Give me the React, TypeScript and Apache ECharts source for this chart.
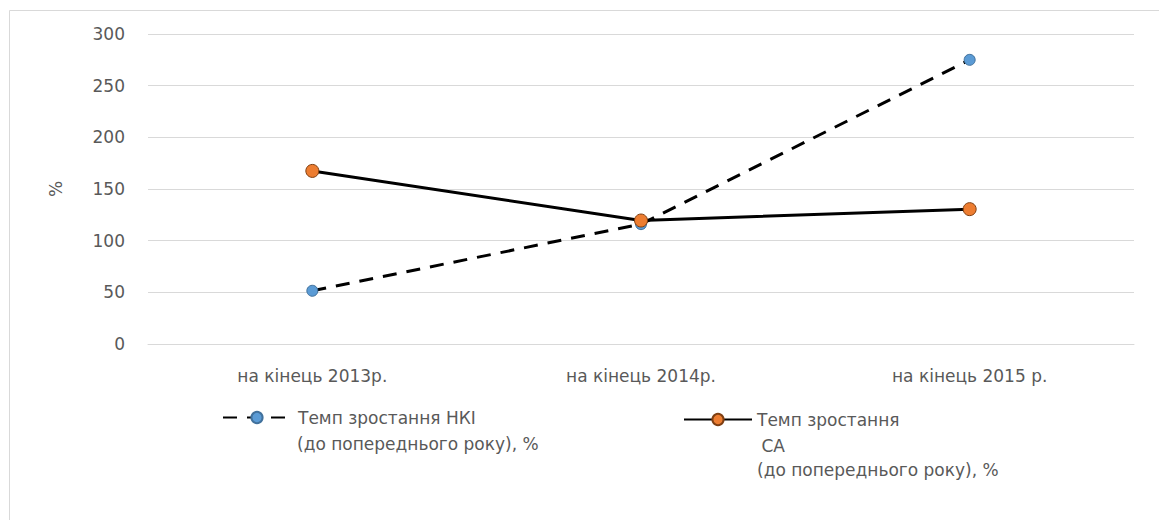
import React, { useEffect, useRef } from "react";
import * as echarts from "echarts";

// Categories and values of the two growth-rate series
const categories = ["на кінець 2013р.", "на кінець 2014р.", "на кінець 2015 р."];
const nkiGrowth = [51.5, 116, 275];
const saGrowth = [167.5, 119.5, 130.5];
const yTicks = { min: 0, max: 300, interval: 50 };

const nkiName = "Темп зростання НКІ";
const saName = "Темп зростання";

const FONT = "'DejaVu Sans', Verdana, sans-serif";
const TEXT_COLOR = "#595959";
const AXIS_FONT = 17;
const LEGEND_FONT = 17;

export default function App() {
  const ref = useRef<HTMLDivElement>(null);

  useEffect(() => {
    if (!ref.current) return;
    const chart = echarts.init(ref.current, undefined, { renderer: "svg" });
    chart.setOption({
      animation: false,
      textStyle: { fontFamily: FONT },
      grid: { left: 140, right: 29, top: 26, bottom: 176 },
      xAxis: {
        type: "category",
        data: categories,
        boundaryGap: true,
        axisLine: { lineStyle: { color: "#d9d9d9" } },
        axisTick: { show: false },
        axisLabel: { color: TEXT_COLOR, fontSize: AXIS_FONT, margin: 23, fontFamily: FONT },
      },
      yAxis: {
        type: "value",
        min: yTicks.min,
        max: yTicks.max,
        interval: yTicks.interval,
        name: "%",
        nameLocation: "middle",
        nameGap: 84,
        nameTextStyle: { color: TEXT_COLOR, fontSize: AXIS_FONT, fontFamily: FONT },
        axisLine: { show: false },
        axisTick: { show: false },
        splitLine: { lineStyle: { color: "#d9d9d9", width: 1 } },
        axisLabel: { color: TEXT_COLOR, fontSize: AXIS_FONT, margin: 23, fontFamily: FONT },
      },
      legend: [
        {
          data: [nkiName],
          left: 209,
          top: 396,
          itemWidth: 68,
          itemHeight: 14,
          itemGap: 0,
          textStyle: { color: TEXT_COLOR, fontSize: LEGEND_FONT, fontFamily: FONT, padding: [0, 0, 0, 2] },
        },
        {
          data: [saName],
          left: 670,
          top: 398,
          itemWidth: 68,
          itemHeight: 14,
          itemGap: 0,
          textStyle: { color: TEXT_COLOR, fontSize: LEGEND_FONT, fontFamily: FONT },
        },
      ],
      graphic: [
        {
          type: "rect",
          shape: { x: 1.5, y: 2.5, width: 1152, height: 600 },
          style: { fill: "none", stroke: "#d9d9d9", lineWidth: 1 },
          silent: true,
        },
        {
          type: "text",
          left: 289,
          top: 427,
          style: { text: "(до попереднього року), %", fill: TEXT_COLOR, fontSize: LEGEND_FONT, fontFamily: FONT },
        },
        {
          type: "text",
          left: 748,
          top: 429,
          style: { text: " СА", fill: TEXT_COLOR, fontSize: LEGEND_FONT, fontFamily: FONT },
        },
        {
          type: "text",
          left: 749,
          top: 453,
          style: { text: "(до попереднього року), %", fill: TEXT_COLOR, fontSize: LEGEND_FONT, fontFamily: FONT },
        },
      ],
      series: [
        {
          name: nkiName,
          type: "line",
          data: nkiGrowth,
          symbol: "circle",
          symbolSize: 11,
          itemStyle: { color: "#5b9bd5", borderColor: "#41719c", borderWidth: 1 },
          lineStyle: { color: "#000", width: 3, type: [14, 10] },
          z: 2,
        },
        {
          name: saName,
          type: "line",
          data: saGrowth,
          symbol: "circle",
          symbolSize: 13,
          itemStyle: { color: "#ed7d31", borderColor: "#7f3f12", borderWidth: 1 },
          lineStyle: { color: "#000", width: 3, type: "solid" },
          z: 3,
        },
      ],
    });
    return () => chart.dispose();
  }, []);

  return <div ref={ref} style={{ width: 1155, height: 512 }} />;
}
